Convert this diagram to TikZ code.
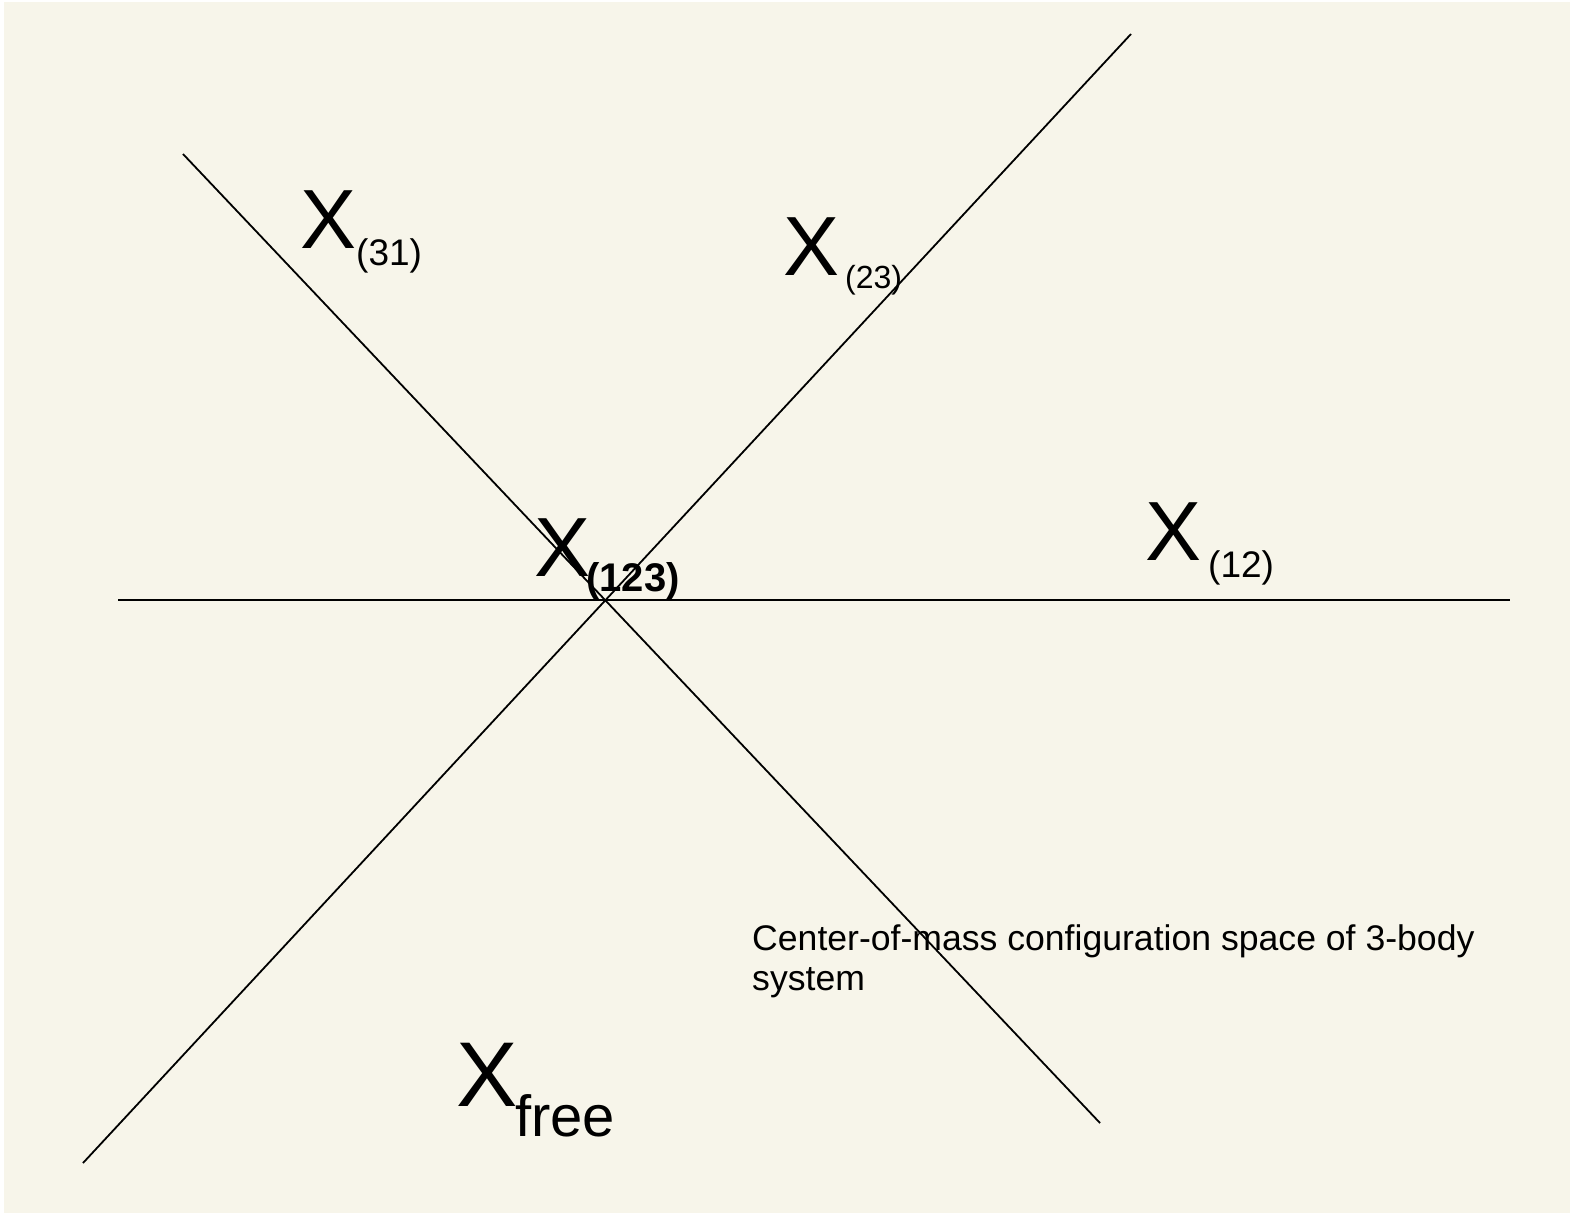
\documentclass[tikz,border=0pt]{standalone}
\usepackage{fontspec}
\setmainfont{Liberation Sans}
\definecolor{paper}{RGB}{247,245,234}
\begin{document}
\begin{tikzpicture}[x=1pt,y=-1pt,
  axis/.style={line width=1.8pt, black},
  bigx/.style={inner sep=0pt, anchor=base west, font=\fontsize{84}{90}\selectfont},
  sublab/.style={inner sep=0pt, anchor=base west, font=\fontsize{37}{40}\selectfont},
  caption/.style={inner sep=0pt, anchor=base west, font=\fontsize{35.6}{40}\selectfont}]
\fill[white] (0,0) rectangle (1570,1213);
\fill[paper] (4,2) rectangle (1570,1213);
\useasboundingbox (0,0) rectangle (1570,1213);
% line end points
\coordinate (h1) at (118,600);
\coordinate (h2) at (1510,600);
\coordinate (a1) at (183,154);
\coordinate (a2) at (1100,1123);
\coordinate (b1) at (1131,34);
\coordinate (b2) at (83,1163);
\draw[axis] (h1) -- (h2);
\draw[axis] (a1) -- (a2);
\draw[axis] (b1) -- (b2);
% labels
\node[bigx] (x31) at (300,248) {X};
\node[sublab] (s31) at (356,265) {(31)};
\node[bigx] (x23) at (783,275) {X};
\node[sublab, font=\fontsize{32}{36}\selectfont] (s23) at (845,288) {(23)};
\node[bigx] (x12) at (1145,560) {X};
\node[sublab] (s12) at (1208,577) {(12)};
\node[bigx] (x123) at (534,576) {X};
\node[sublab, font=\fontsize{40}{46}\selectfont\bfseries] (s123) at (586,591) {(123)};
\node[bigx, font=\fontsize{92}{96}\selectfont] (xfree) at (456,1106) {X};
\node[sublab, font=\fontsize{58}{62}\selectfont] (sfree) at (515,1136) {free};
\node[caption] (cap1) at (752,950) {Center-of-mass configuration space of 3-body};
\node[caption] (cap2) at (752,990) {system};
\end{tikzpicture}
\end{document}
